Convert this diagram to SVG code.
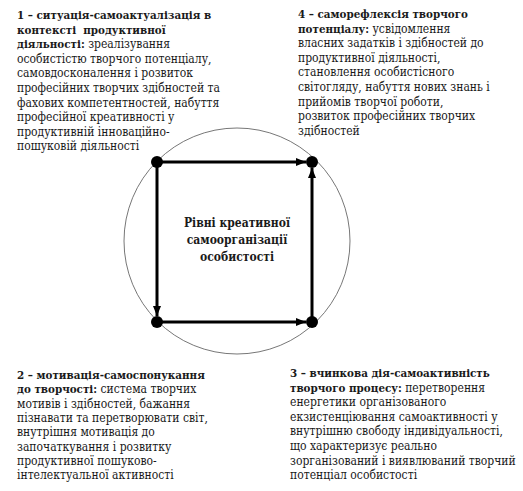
<svg xmlns="http://www.w3.org/2000/svg" width="523" height="491" viewBox="0 0 523 491" font-family="'DejaVu Serif Condensed', 'DejaVu Serif', serif" font-size="12">
<style>
text{fill:#1a1a1a;font-family:'DejaVu Serif Condensed','DejaVu Serif',serif;font-size:12px}
.b{font-weight:bold;font-size:11.5px}
.c{text-anchor:middle;font-weight:bold;font-size:12px}
.ln{stroke:#000;stroke-width:3;fill:none}
</style>
<defs>
<marker id="ah" markerUnits="userSpaceOnUse" markerWidth="10" markerHeight="10" viewBox="0 0 10 10" refX="10" refY="5" orient="auto">
<path d="M0,1 L10,5 L0,9 Z" fill="#000"/>
</marker>
</defs>
<rect width="523" height="491" fill="#fff"/>
<circle cx="237" cy="241" r="113" fill="none" stroke="#777" stroke-width="1"/>
<g id="connectors">
<line class="ln" x1="157" y1="162" x2="306" y2="162" marker-end="url(#ah)"/>
<line class="ln" x1="157" y1="162" x2="157" y2="316" marker-end="url(#ah)"/>
<line class="ln" x1="157" y1="322" x2="306" y2="322" marker-end="url(#ah)"/>
<line class="ln" x1="312" y1="322" x2="312" y2="168" marker-end="url(#ah)"/>
</g>
<g id="dots" fill="#000">
<circle cx="157" cy="162" r="6"/>
<circle cx="312" cy="162" r="6"/>
<circle cx="157" cy="322" r="6"/>
<circle cx="312" cy="322" r="6"/>
</g>
<g id="center">
<text class="c" x="237" y="227">Рівні креативної</text>
<text class="c" x="237" y="244">самоорганізації</text>
<text class="c" x="237" y="261">особистості</text>
</g>
<g id="node1">
<text x="17" y="19" class="b">1 – ситуація-самоактуалізація в</text>
<text x="17" y="33.6" class="b" xml:space="preserve">контексті  продуктивної</text>
<text x="17" y="48.2"><tspan class="b">діяльності:</tspan> зреалізування</text>
<text x="17" y="62.8">особистістю творчого потенціалу,</text>
<text x="17" y="77.4">самовдосконалення і розвиток</text>
<text x="17" y="92">професійних творчих здібностей та</text>
<text x="17" y="106.6">фахових компетентностей, набуття</text>
<text x="17" y="121.2">професійної креативності у</text>
<text x="17" y="135.8">продуктивній інноваційно-</text>
<text x="17" y="150.4">пошуковій діяльності</text>
</g>
<g id="node4">
<text x="298" y="18" class="b">4 – саморефлексія творчого</text>
<text x="298" y="32.6"><tspan class="b">потенціалу:</tspan> усвідомлення</text>
<text x="298" y="47.2">власних задатків і здібностей до</text>
<text x="298" y="61.8">продуктивної діяльності,</text>
<text x="298" y="76.4">становлення особистісного</text>
<text x="298" y="91">світогляду, набуття нових знань і</text>
<text x="298" y="105.6">прийомів творчої роботи,</text>
<text x="298" y="120.2">розвиток професійних творчих</text>
<text x="298" y="134.8">здібностей</text>
</g>
<g id="node2">
<text x="17" y="379" class="b">2 – мотивація-самоспонукання</text>
<text x="17" y="393.3"><tspan class="b">до творчості:</tspan> система творчих</text>
<text x="17" y="407.6">мотивів і здібностей, бажання</text>
<text x="17" y="421.9">пізнавати та перетворювати світ,</text>
<text x="17" y="436.2">внутрішня мотивація до</text>
<text x="17" y="450.5">започаткування і розвитку</text>
<text x="17" y="464.8">продуктивної пошуково-</text>
<text x="17" y="479.1">інтелектуальної активності</text>
</g>
<g id="node3">
<text x="290" y="377" class="b">3 – вчинкова дія-самоактивність</text>
<text x="290" y="391.6"><tspan class="b">творчого процесу:</tspan> перетворення</text>
<text x="290" y="406.2">енергетики організованого</text>
<text x="290" y="420.8">екзистенціювання самоактивності у</text>
<text x="290" y="435.4">внутрішню свободу індивідуальності,</text>
<text x="290" y="450">що характеризує реально</text>
<text x="290" y="464.6">зорганізований і виявлюваний творчий</text>
<text x="290" y="479.2">потенціал особистості</text>
</g>
</svg>
